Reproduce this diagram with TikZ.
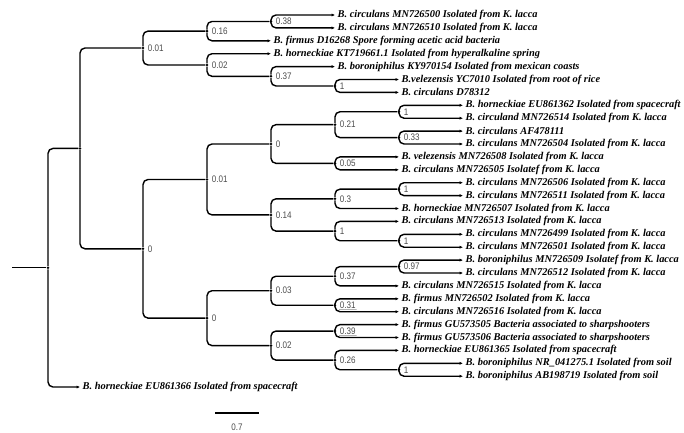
\documentclass[tikz,border=0pt]{standalone}
\usepackage{fontspec}
\setmainfont{Liberation Serif}
\newfontfamily\labfont{Liberation Sans}[FakeStretch=0.85]
\usepackage{tikz}
\usetikzlibrary{arrows.meta, positioning}

\begin{document}
\begin{tikzpicture}[
      x=1pt, y=-1pt,
      branch/.style={line width=1.4pt, rounded corners=5pt, to path={|- (\tikztotarget)}},
      twig/.style={branch, -{Latex[length=3.5pt,width=3.2pt]}},
      fork/.style={circle, fill, inner sep=0pt, minimum size=2.8pt},
      taxon/.style={anchor=west, inner sep=2.5pt, font=\fontsize{10.4}{12}\selectfont\bfseries\itshape},
      support/.style={font=\labfont\fontsize{9.5}{10}\selectfont, text=black!70, inner sep=1pt},
      boxed/.style={support, path picture={\draw[black!30, line width=0.4pt]
          (path picture bounding box.south west) -- (path picture bounding box.south east);}},
      every label/.style={support},
      label distance=2pt
    ]
      \clip (0,0) rectangle (684,432);

      % taxa
      \node[taxon] (l1) at (335,15) {B. circulans MN726500 Isolated from K. lacca};
      \node[taxon] (l2) at (335,27.9) {B. circulans MN726510 Isolated from K. lacca};
      \node[taxon] (l3) at (271,40.8) {B. firmus D16268 Spore forming acetic acid bacteria};
      \node[taxon] (l4) at (271,53.7) {B. horneckiae KT719661.1 Isolated from hyperalkaline spring};
      \node[taxon] (l5) at (335,66.6) {B. boroniphilus KY970154 Isolated from mexican coasts};
      \node[taxon] (l6) at (399,79.5) {B.velezensis YC7010 Isolated from root of rice};
      \node[taxon] (l7) at (399,92.4) {B. circulans D78312};
      \node[taxon] (l8) at (463,105.3) {B. horneckiae EU861362 Isolated from spacecraft};
      \node[taxon] (l9) at (463,118.2) {B. circuland MN726514 Isolated from K. lacca};
      \node[taxon] (l10) at (463,131.1) {B. circulans AF478111};
      \node[taxon] (l11) at (463,144) {B. circulans MN726504 Isolated from K. lacca};
      \node[taxon] (l12) at (399,156.9) {B. velezensis MN726508 Isolated from K. lacca};
      \node[taxon] (l13) at (399,169.8) {B. circulans MN726505 Isolatef from K. lacca};
      \node[taxon] (l14) at (463,182.7) {B. circulans MN726506 Isolated from K. lacca};
      \node[taxon] (l15) at (463,195.6) {B. circulans MN726511 Isolated from K. lacca};
      \node[taxon] (l16) at (399,208.5) {B. horneckiae MN726507 Isolated from K. lacca};
      \node[taxon] (l17) at (399,221.4) {B. circulans MN726513 Isolated from K. lacca};
      \node[taxon] (l18) at (463,234.3) {B. circulans MN726499 Isolated from K. lacca};
      \node[taxon] (l19) at (463,247.2) {B. circulans MN726501 Isolated from K. lacca};
      \node[taxon] (l20) at (463,260.1) {B. boroniphilus MN726509 Isolatef from K. lacca};
      \node[taxon] (l21) at (463,273) {B. circulans MN726512 Isolated from K. lacca};
      \node[taxon] (l22) at (399,285.9) {B. circulans MN726515 Isolated from K. lacca};
      \node[taxon] (l23) at (399,298.8) {B. firmus MN726502 Isolated from K. lacca};
      \node[taxon] (l24) at (399,311.7) {B. circulans MN726516 Isolated from K. lacca};
      \node[taxon] (l25) at (399,324.6) {B. firmus GU573505 Bacteria associated to sharpshooters};
      \node[taxon] (l26) at (399,337.5) {B. firmus GU573506 Bacteria associated to sharpshooters};
      \node[taxon] (l27) at (399,350.4) {B. horneckiae EU861365 Isolated from spacecraft};
      \node[taxon] (l28) at (463,363.3) {B. boroniphilus NR\_041275.1 Isolated from soil};
      \node[taxon] (l29) at (463,376.2) {B. boroniphilus AB198719 Isolated from soil};
      \node[taxon] (l30) at (80,387) {B. horneckiae EU861366 Isolated from spacecraft};

      % internal nodes
      \coordinate (stub) at (12,267.7);
      \node[fork] (root) at (48,267.7) {};
      \node[fork] (nA) at (80,148.4) {};
      \node[fork, label=right:0.01] (n001a) at (143,48) {};
      \node[fork, label=right:0.16] (n016) at (207,31.1) {};
      \node[fork, label={[boxed]right:0.38}] (n038) at (271,21.45) {};
      \node[fork, label=right:0.02] (n002a) at (207,65) {};
      \node[fork, label=right:0.37] (n037a) at (271,76.3) {};
      \node[fork, label=right:1] (n1a) at (335,86) {};
      \node[fork, label=right:0] (n0a) at (143,248.8) {};
      \node[fork, label=right:0.01] (n001b) at (207,179.5) {};
      \node[fork, label=right:0] (n0b) at (271,144) {};
      \node[fork, label=right:0.21] (n021) at (335,124.65) {};
      \node[fork, label=right:1] (n1b) at (399,111.75) {};
      \node[fork, label={[boxed]right:0.33}] (n033) at (399,137.55) {};
      \node[fork, label={[boxed]right:0.05}] (n005) at (335,163.35) {};
      \node[fork, label=right:0.14] (n014) at (271,214.9) {};
      \node[fork, label=right:0.3] (n03) at (335,198.8) {};
      \node[fork, label=right:1] (n1c) at (399,189.15) {};
      \node[fork, label=right:1] (n1d) at (335,231.1) {};
      \node[fork, label=right:1] (n1e) at (399,240.75) {};
      \node[fork, label=right:0] (n0c) at (207,318.1) {};
      \node[fork, label=right:0.03] (n003) at (271,290.7) {};
      \node[fork, label=right:0.37] (n037b) at (335,276.2) {};
      \node[fork, label={[boxed]right:0.97}] (n097) at (399,266.55) {};
      \node[fork, label={[boxed]right:0.31}] (n031) at (335,305.25) {};
      \node[fork, label=right:0.02] (n002b) at (271,345.6) {};
      \node[fork, label={[boxed]right:0.39}] (n039) at (335,331.05) {};
      \node[fork, label=right:0.26] (n026) at (335,360.1) {};
      \node[fork, label=right:1] (n1f) at (399,369.75) {};

      % branches
      \draw[line width=1.4pt] (stub) -- (root);
      \path (root) edge[branch] (nA) edge[twig] (l30);
      \path (nA) edge[branch] (n001a) edge[branch] (n0a);
      \path (n001a) edge[branch] (n016) edge[branch] (n002a);
      \path (n016) edge[branch] (n038) edge[twig] (l3);
      \path (n038) edge[twig] (l1) edge[twig] (l2);
      \path (n002a) edge[twig] (l4) edge[branch] (n037a);
      \path (n037a) edge[twig] (l5) edge[branch] (n1a);
      \path (n1a) edge[twig] (l6) edge[twig] (l7);
      \path (n0a) edge[branch] (n001b) edge[branch] (n0c);
      \path (n001b) edge[branch] (n0b) edge[branch] (n014);
      \path (n0b) edge[branch] (n021) edge[branch] (n005);
      \path (n021) edge[branch] (n1b) edge[branch] (n033);
      \path (n1b) edge[twig] (l8) edge[twig] (l9);
      \path (n033) edge[twig] (l10) edge[twig] (l11);
      \path (n005) edge[twig] (l12) edge[twig] (l13);
      \path (n014) edge[branch] (n03) edge[branch] (n1d);
      \path (n03) edge[branch] (n1c) edge[twig] (l16);
      \path (n1c) edge[twig] (l14) edge[twig] (l15);
      \path (n1d) edge[twig] (l17) edge[branch] (n1e);
      \path (n1e) edge[twig] (l18) edge[twig] (l19);
      \path (n0c) edge[branch] (n003) edge[branch] (n002b);
      \path (n003) edge[branch] (n037b) edge[branch] (n031);
      \path (n037b) edge[branch] (n097) edge[twig] (l22);
      \path (n097) edge[twig] (l20) edge[twig] (l21);
      \path (n031) edge[twig] (l23) edge[twig] (l24);
      \path (n002b) edge[branch] (n039) edge[branch] (n026);
      \path (n039) edge[twig] (l25) edge[twig] (l26);
      \path (n026) edge[twig] (l27) edge[branch] (n1f);
      \path (n1f) edge[twig] (l28) edge[twig] (l29);

      % scale bar
      \coordinate (sbl) at (215,413);
      \coordinate (sbr) at (259,413);
      \draw[line width=2pt] (sbl) -- (sbr);
      \node[font=\labfont\fontsize{9.5}{10}\selectfont, text=black!70] (sbt) at (237,427) {0.7};
    \end{tikzpicture}
\end{document}
